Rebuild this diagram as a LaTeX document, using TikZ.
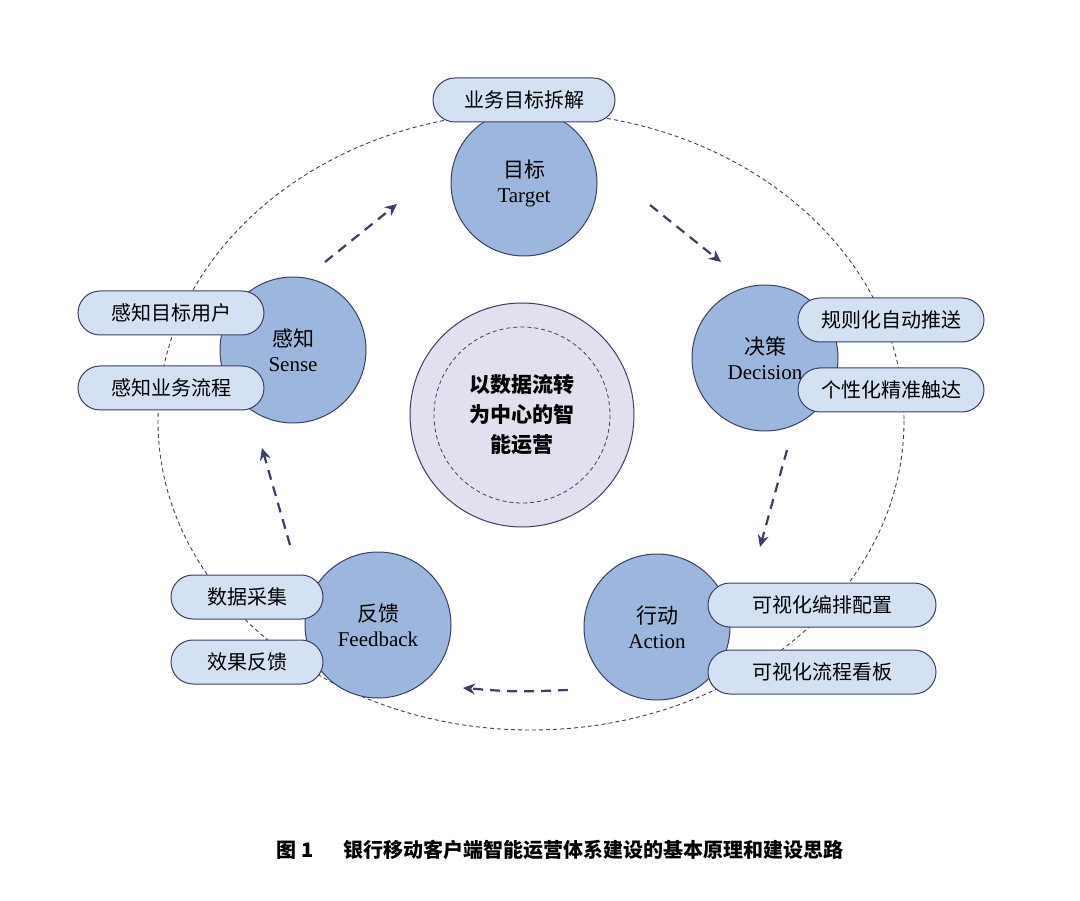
\documentclass[tikz,border=0pt]{standalone}
\usepackage{fontspec}
\setmainfont{Liberation Serif}
\newfontfamily\cjk{Noto Sans CJK SC}
\usetikzlibrary{arrows.meta}
\definecolor{bc}{HTML}{9DB6DD}
\definecolor{pc}{HTML}{D3E1F3}
\definecolor{cc}{HTML}{E3DFEE}
\definecolor{ln}{HTML}{3B3F66}
\begin{document}
\begin{tikzpicture}[x=1pt,y=-1pt,
  big/.style={circle,draw=ln,line width=1pt,fill=bc,minimum size=146pt,inner sep=0pt,align=center,font=\fontsize{21}{25}\selectfont},
  pill/.style={rectangle,rounded corners=22pt,draw=ln,line width=1pt,fill=pc,minimum height=44pt,inner sep=0pt,font=\cjk\fontsize{20}{24}\selectfont},
  flow/.style={draw=ln,line width=2.2pt,dash pattern=on 10pt off 7pt,-{Stealth[length=12pt,width=11pt]}}]
\useasboundingbox (0,0) rectangle (1080,901);
\draw[ln,line width=0.9pt,dash pattern=on 4pt off 3pt] (531,421) ellipse [x radius=373, y radius=309];
\node[circle,draw=ln,line width=1pt,fill=cc,minimum size=224pt] (c) at (522,415) {};
\draw[ln,line width=0.8pt,dash pattern=on 4pt off 3pt] (c.center) circle (88);
\node[align=center,font=\cjk\bfseries\fontsize{21}{30}\selectfont] (ct) at (c.center) {以数据流转\\为中心的智\\能运营};
\node[big] (t) at (524,183) {{\cjk 目标}\\Target};
\node[big] (d) at (765,358) {{\cjk 决策}\\Decision};
\node[big] (a) at (657,627) {{\cjk 行动}\\Action};
\node[big] (f) at (378,625) {{\cjk 反馈}\\Feedback};
\node[big] (s) at (293,350) {{\cjk 感知}\\Sense};
\node[pill,minimum width=182pt] (p1) at (524,100) {业务目标拆解};
\node[pill,minimum width=186pt] (p2) at (171,313) {感知目标用户};
\node[pill,minimum width=186pt] (p3) at (171,388) {感知业务流程};
\node[pill,minimum width=186pt] (p4) at (891,320) {规则化自动推送};
\node[pill,minimum width=186pt] (p5) at (891,390) {个性化精准触达};
\node[pill,minimum width=228pt] (p6) at (822,605) {可视化编排配置};
\node[pill,minimum width=228pt] (p7) at (822,672) {可视化流程看板};
\node[pill,minimum width=152pt] (p8) at (247,597) {数据采集};
\node[pill,minimum width=152pt] (p9) at (247,662) {效果反馈};
\coordinate (a1s) at (325,262); \coordinate (a1e) at (397,204);
\coordinate (a2s) at (650,205); \coordinate (a2e) at (721,262);
\coordinate (a3s) at (787,450); \coordinate (a3e) at (760,547);
\coordinate (a4s) at (568,690); \coordinate (a4e) at (463,688);
\coordinate (a5s) at (290,545); \coordinate (a5e) at (262,448);
\draw[flow] (a1s) -- (a1e);
\draw[flow] (a2s) -- (a2e);
\draw[flow] (a3s) -- (a3e);
\draw[flow] (a4s) .. controls (515,692) .. (a4e);
\draw[flow] (a5s) -- (a5e);
\node[font=\cjk\bfseries\fontsize{20}{24}\selectfont] (cap) at (560,850) {图 1\hspace{1.5em}银行移动客户端智能运营体系建设的基本原理和建设思路};
\end{tikzpicture}
\end{document}
